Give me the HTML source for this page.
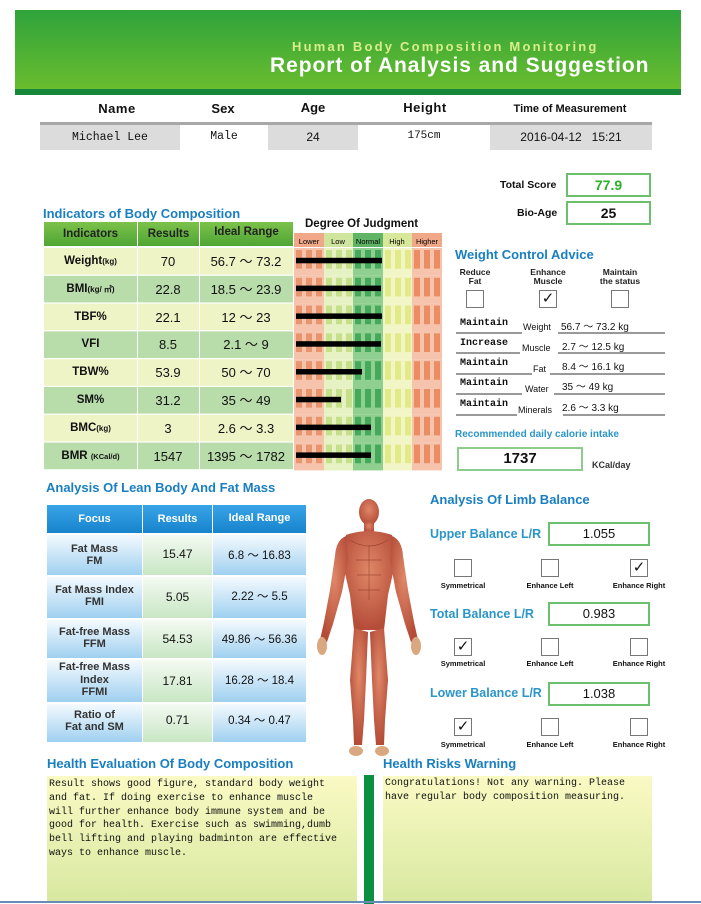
<!DOCTYPE html>
<html><head><meta charset="utf-8"><style>
*{margin:0;padding:0;box-sizing:border-box}
body{width:701px;height:904px;background:#fff;position:relative;overflow:hidden;font-family:"Liberation Sans",Arial,sans-serif;color:#111}
.a{position:absolute}
.t{color:#1a7fc0;font-weight:bold;font-size:13px}
.c{text-align:center}
.b{font-weight:bold}
.mono{font-family:"Liberation Mono",monospace}
.cb{position:absolute;width:18px;height:18px;border:1px solid #777;background:#fff;font-size:15px;line-height:16px;text-align:center}
.sl{position:absolute;font-size:7.5px;font-weight:bold;width:80px;text-align:center}
.box{position:absolute;border:2px solid #6cbf6c;background:#fff;text-align:center;font-size:14px}
.bt{position:absolute;color:#2a95c8;font-weight:bold;font-size:12.5px}
</style></head><body>
<div class="a" style="left:15px;top:10px;width:666px;height:80px;background:linear-gradient(#2fa33c,#6abd2e)"></div>
<div class="a" style="left:15px;top:89px;width:666px;height:6px;background:#17883a"></div>
<div class="a b" style="left:292px;top:39px;font-size:13px;letter-spacing:2.2px;color:#d9ee8a">Human Body Composition Monitoring</div>
<div class="a b" style="left:270px;top:54px;font-size:21px;letter-spacing:0.95px;color:#fff">Report of Analysis and Suggestion</div>
<div class="a b c" style="left:70px;top:101px;width:94px;font-size:13px;letter-spacing:.5px">Name</div>
<div class="a b c" style="left:200px;top:101px;width:46px;font-size:13px">Sex</div>
<div class="a b c" style="left:290px;top:100px;width:46px;font-size:13px">Age</div>
<div class="a b c" style="left:380px;top:100px;width:90px;font-size:13px;letter-spacing:.5px">Height</div>
<div class="a b c" style="left:495px;top:103px;width:150px;font-size:11px">Time of Measurement</div>
<div class="a" style="left:40px;top:122px;width:612px;height:28px;background:#dcdcdc;border-top:3px solid #a8a8a8"></div>
<div class="a" style="left:180px;top:125px;width:88px;height:25px;background:#fff"></div>
<div class="a" style="left:358px;top:125px;width:132px;height:25px;background:#fff"></div>
<div class="a mono c" style="left:40px;top:131px;width:140px;font-size:11.5px">Michael Lee</div>
<div class="a mono c" style="left:180px;top:130px;width:88px;font-size:11.5px">Male</div>
<div class="a c" style="left:268px;top:130px;width:90px;font-size:12px">24</div>
<div class="a mono c" style="left:358px;top:130px;width:132px;font-size:11px">175cm</div>
<div class="a c" style="left:490px;top:130px;width:162px;font-size:12px">2016-04-12&nbsp;&nbsp;&nbsp;15:21</div>
<div class="a b" style="left:500px;top:179px;font-size:10.5px">Total Score</div>
<div class="box b" style="left:566px;top:173px;width:85px;height:24px;color:#2bb02b;line-height:20px">77.9</div>
<div class="a b" style="left:517px;top:207px;font-size:10.5px">Bio-Age</div>
<div class="box b" style="left:566px;top:201px;width:85px;height:24px;line-height:20px">25</div>
<div class="a t" style="left:43px;top:206px">Indicators of Body Composition</div>
<svg class="a" style="left:0;top:0" width="701" height="904">
<defs>
<linearGradient id="gh" x1="0" y1="0" x2="0" y2="1"><stop offset="0" stop-color="#7cc24a"/><stop offset="1" stop-color="#4fa535"/></linearGradient>
<linearGradient id="bh" x1="0" y1="0" x2="0" y2="1"><stop offset="0" stop-color="#3aa4e8"/><stop offset="1" stop-color="#1683cc"/></linearGradient>
<linearGradient id="bc" x1="0" y1="0" x2="0" y2="1"><stop offset="0" stop-color="#f4fafe"/><stop offset="1" stop-color="#9fd0f0"/></linearGradient>
<linearGradient id="gc" x1="0" y1="0" x2="0" y2="1"><stop offset="0" stop-color="#f4faf2"/><stop offset="1" stop-color="#c8e6c4"/></linearGradient>
<linearGradient id="hy" x1="0" y1="0" x2="0" y2="1"><stop offset="0" stop-color="#fafac4"/><stop offset="1" stop-color="#d8e8a0"/></linearGradient>
<radialGradient id="sk" cx=".5" cy=".4" r=".6"><stop offset="0" stop-color="#e08868"/><stop offset="1" stop-color="#b44c38"/></radialGradient>
</defs>
<rect x="44" y="222" width="93" height="24" fill="url(#gh)"/><rect x="138" y="222" width="61" height="24" fill="url(#gh)"/><rect x="200" y="222" width="93" height="24" fill="url(#gh)"/>
<g id="rows"></g>
<rect x="294" y="233" width="30" height="14" fill="#f0a888"/><rect x="324" y="233" width="29" height="14" fill="#cfe49c"/><rect x="353" y="233" width="30" height="14" fill="#5fb565"/><rect x="383" y="233" width="29" height="14" fill="#d8e89a"/><rect x="412" y="233" width="30" height="14" fill="#f0a888"/>
<g font-size="7.5" font-family="Liberation Sans" text-anchor="middle"><text x="309" y="244">Lower</text><text x="338" y="244">Low</text><text x="368" y="244">Normal</text><text x="397" y="244">High</text><text x="427" y="244">Higher</text></g>
<rect x="47" y="505" width="95" height="28" fill="url(#bh)"/><rect x="143" y="505" width="69" height="28" fill="url(#bh)"/><rect x="213" y="505" width="93" height="28" fill="url(#bh)"/>
<g>
<rect x="47" y="535" width="95" height="40" fill="url(#bc)"/><rect x="143" y="535" width="69" height="40" fill="url(#gc)"/><rect x="213" y="535" width="93" height="40" fill="url(#bc)"/>
<rect x="47" y="577" width="95" height="41" fill="url(#bc)"/><rect x="143" y="577" width="69" height="41" fill="url(#gc)"/><rect x="213" y="577" width="93" height="41" fill="url(#bc)"/>
<rect x="47" y="620" width="95" height="38" fill="url(#bc)"/><rect x="143" y="620" width="69" height="38" fill="url(#gc)"/><rect x="213" y="620" width="93" height="38" fill="url(#bc)"/>
<rect x="47" y="660" width="95" height="42" fill="url(#bc)"/><rect x="143" y="660" width="69" height="42" fill="url(#gc)"/><rect x="213" y="660" width="93" height="42" fill="url(#bc)"/>
<rect x="47" y="704" width="95" height="38" fill="url(#bc)"/><rect x="143" y="704" width="69" height="38" fill="url(#gc)"/><rect x="213" y="704" width="93" height="38" fill="url(#bc)"/>
</g>
<g fill="url(#sk)">
<ellipse cx="369" cy="512" rx="10" ry="13"/>
<rect x="364" y="522" width="10" height="10"/>
<path d="M346 535 Q369 527 392 535 L396 560 L388 595 L384 630 L354 630 L350 595 L342 560 Z"/>
<path d="M346 536 Q336 540 335 556 L330 590 L324 622 L320 640 L327 642 L333 624 L342 592 L348 560 Z"/>
<path d="M392 536 Q402 540 403 556 L408 590 L414 622 L418 640 L411 642 L405 624 L396 592 L390 560 Z"/>
<path d="M354 628 L368 632 L366 680 L364 720 L362 745 L354 745 L353 720 L350 680 Z"/>
<path d="M384 628 L370 632 L372 680 L374 720 L376 745 L384 745 L385 720 L388 680 Z"/>
</g>
<g fill="#d9a880"><ellipse cx="322" cy="646" rx="5" ry="9"/><ellipse cx="416" cy="646" rx="5" ry="9"/><ellipse cx="356" cy="751" rx="7" ry="5"/><ellipse cx="382" cy="751" rx="7" ry="5"/></g>
<g stroke="#8e3424" stroke-width=".7" fill="none" opacity=".7"><path d="M369 545 V600 M356 560 H382 M357 575 H381 M358 590 H380 M350 540 Q369 552 388 540"/></g>
<rect x="47" y="776" width="310" height="126" fill="url(#hy)"/>
<rect x="383" y="776" width="269" height="126" fill="url(#hy)"/>
<rect x="364" y="775" width="10" height="129" fill="#0a9040"/>
<rect x="0" y="901" width="701" height="2" fill="#6a8ab8"/>
<g stroke="#333" stroke-width="1">
<line x1="456" y1="333" x2="522" y2="333"/><line x1="558" y1="333" x2="665" y2="333"/>
<line x1="456" y1="353" x2="520" y2="353"/><line x1="558" y1="353" x2="665" y2="353"/>
<line x1="456" y1="374" x2="532" y2="374"/><line x1="550" y1="374" x2="665" y2="374"/>
<line x1="456" y1="394" x2="522" y2="394"/><line x1="554" y1="394" x2="665" y2="394"/>
<line x1="456" y1="415" x2="517" y2="415"/><line x1="563" y1="415" x2="665" y2="415"/>
</g>
</svg>
<script>
(function(){
var ns="http://www.w3.org/2000/svg",g=document.getElementById("rows");
function r(x,y,w,h,f){var e=document.createElementNS(ns,"rect");e.setAttribute("x",x);e.setAttribute("y",y);e.setAttribute("width",w);e.setAttribute("height",h);e.setAttribute("fill",f);g.appendChild(e);}
var ends=[382,381,382,381,362,341,371,371];
var segs=[[294,"#f6c4ac","#ea946e"],[324,"#e6f2c4","#c6df8a"],[353,"#8fcf8f","#46a85a"],[383,"#f2f6c6","#e2ea88"],[412,"#f6c4ac","#ec8c62"]];
for(var i=0;i<8;i++){
 var y=248+i*27.8,h=26.6;
 r(44,y,93,h,i%2?"#b9dcab":"#eef4c6");r(138,y,61,h,i%2?"#b9dcab":"#eef4c6");r(200,y,93,h,i%2?"#b9dcab":"#eef4c6");
 for(var s=0;s<5;s++){var x=segs[s][0];r(x,y,30,27.8,segs[s][1]);
  for(var k=0;k<3;k++)r(x+2+k*10,y+2,6,h-8,segs[s][2]);}
 r(296,y+h/2-3.5,ends[i]-296,5.5,"#000");
}
})();
</script>
<div class="a b c" style="left:44px;top:228px;width:93px;font-size:11.5px;color:#222">Indicators</div>
<div class="a b c" style="left:138px;top:228px;width:61px;font-size:11.5px;color:#222">Results</div>
<div class="a b c" style="left:200px;top:226px;width:93px;font-size:11.5px;color:#222">Ideal Range</div>
<div class="a b" style="left:305px;top:218px;font-size:11.5px">Degree Of Judgment</div>
<div class="a" style="left:44px;top:248px;width:249px;font-size:13px;line-height:27.8px">
<div style="display:flex"><div class="b c" style="width:93px;font-size:11.5px">Weight<span style="font-size:8px">(kg)</span></div><div class="c" style="width:62px">70</div><div class="c" style="width:94px">56.7 ～ 73.2</div></div>
<div style="display:flex"><div class="b c" style="width:93px;font-size:11.5px">BMI<span style="font-size:8px">(kg/ ㎡)</span></div><div class="c" style="width:62px">22.8</div><div class="c" style="width:94px">18.5 ～ 23.9</div></div>
<div style="display:flex"><div class="b c" style="width:93px;font-size:11.5px">TBF%</div><div class="c" style="width:62px">22.1</div><div class="c" style="width:94px">12 ～ 23</div></div>
<div style="display:flex"><div class="b c" style="width:93px;font-size:11.5px">VFI</div><div class="c" style="width:62px">8.5</div><div class="c" style="width:94px">2.1 ～ 9</div></div>
<div style="display:flex"><div class="b c" style="width:93px;font-size:11.5px">TBW%</div><div class="c" style="width:62px">53.9</div><div class="c" style="width:94px">50 ～ 70</div></div>
<div style="display:flex"><div class="b c" style="width:93px;font-size:11.5px">SM%</div><div class="c" style="width:62px">31.2</div><div class="c" style="width:94px">35 ～ 49</div></div>
<div style="display:flex"><div class="b c" style="width:93px;font-size:11.5px">BMC<span style="font-size:8px">(kg)</span></div><div class="c" style="width:62px">3</div><div class="c" style="width:94px">2.6 ～ 3.3</div></div>
<div style="display:flex"><div class="b c" style="width:93px;font-size:11.5px">BMR <span style="font-size:7.5px">(KCal/d)</span></div><div class="c" style="width:62px">1547</div><div class="c" style="width:94px">1395 ～ 1782</div></div>
</div>
<div class="a t" style="left:455px;top:247px">Weight Control Advice</div>
<div class="a b c" style="left:445px;top:268px;width:60px;font-size:8.5px;line-height:9px;color:#222">Reduce<br>Fat</div>
<div class="a b c" style="left:518px;top:268px;width:60px;font-size:8.5px;line-height:9px;color:#222">Enhance<br>Muscle</div>
<div class="a b c" style="left:590px;top:268px;width:60px;font-size:8.5px;line-height:9px;color:#222">Maintain<br>the status</div>
<div class="cb" style="left:466px;top:290px"></div>
<div class="cb" style="left:539px;top:290px">✓</div>
<div class="cb" style="left:611px;top:290px"></div>
<div class="a mono b" style="left:460px;top:318px;font-size:10px">Maintain</div><div class="a" style="left:523px;top:322px;font-size:9px">Weight</div><div class="a" style="left:561px;top:318px;font-size:10px">56.7 ～ 73.2 kg</div>
<div class="a mono b" style="left:460px;top:338px;font-size:10px">Increase</div><div class="a" style="left:522px;top:343px;font-size:9px">Muscle</div><div class="a" style="left:562px;top:338px;font-size:10px">2.7 ～ 12.5 kg</div>
<div class="a mono b" style="left:460px;top:358px;font-size:10px">Maintain</div><div class="a" style="left:533px;top:364px;font-size:9px">Fat</div><div class="a" style="left:562px;top:358px;font-size:10px">8.4 ～ 16.1 kg</div>
<div class="a mono b" style="left:460px;top:378px;font-size:10px">Maintain</div><div class="a" style="left:525px;top:384px;font-size:9px">Water</div><div class="a" style="left:562px;top:378px;font-size:10px">35 ～ 49 kg</div>
<div class="a mono b" style="left:460px;top:399px;font-size:10px">Maintain</div><div class="a" style="left:518px;top:405px;font-size:9px">Minerals</div><div class="a" style="left:562px;top:399px;font-size:10px">2.6 ～ 3.3 kg</div>
<div class="a b" style="left:455px;top:429px;font-size:10px;color:#2a95c8">Recommended daily calorie intake</div>
<div class="box b" style="left:457px;top:447px;width:126px;height:24px;font-size:15px;line-height:20px;border-color:#8ccc8c">1737</div>
<div class="a b" style="left:592px;top:460px;font-size:9px;color:#333">KCal/day</div>
<div class="a t" style="left:46px;top:480px">Analysis Of Lean Body And Fat Mass</div>
<div class="a b c" style="left:47px;top:513px;width:95px;font-size:11px;color:#fff">Focus</div>
<div class="a b c" style="left:143px;top:513px;width:69px;font-size:11px;color:#fff">Results</div>
<div class="a b c" style="left:213px;top:512px;width:93px;font-size:11px;color:#fff">Ideal Range</div>
<div class="a b c" style="left:47px;top:543px;width:95px;font-size:11px;line-height:12px;color:#333">Fat Mass<br>FM</div>
<div class="a b c" style="left:47px;top:584px;width:95px;font-size:11px;line-height:12px;color:#333">Fat Mass Index<br>FMI</div>
<div class="a b c" style="left:47px;top:626px;width:95px;font-size:11px;line-height:12px;color:#333">Fat-free Mass<br>FFM</div>
<div class="a b c" style="left:47px;top:661px;width:95px;font-size:11px;line-height:12.5px;color:#333">Fat-free Mass<br>Index<br>FFMI</div>
<div class="a b c" style="left:47px;top:709px;width:95px;font-size:11px;line-height:12px;color:#333">Ratio of<br>Fat and SM</div>
<div class="a c" style="left:143px;top:547px;width:69px;font-size:12px">15.47</div>
<div class="a c" style="left:143px;top:590px;width:69px;font-size:12px">5.05</div>
<div class="a c" style="left:143px;top:632px;width:69px;font-size:12px">54.53</div>
<div class="a c" style="left:143px;top:674px;width:69px;font-size:12px">17.81</div>
<div class="a c" style="left:143px;top:713px;width:69px;font-size:12px">0.71</div>
<div class="a c" style="left:213px;top:547px;width:93px;font-size:11.5px">6.8 ～ 16.83</div>
<div class="a c" style="left:213px;top:588px;width:93px;font-size:11.5px">2.22 ～ 5.5</div>
<div class="a c" style="left:213px;top:631px;width:93px;font-size:11.5px">49.86 ～ 56.36</div>
<div class="a c" style="left:213px;top:672px;width:93px;font-size:11.5px">16.28 ～ 18.4</div>
<div class="a c" style="left:213px;top:712px;width:93px;font-size:11.5px">0.34 ～ 0.47</div>
<div class="a t" style="left:430px;top:492px">Analysis Of Limb Balance</div>
<div class="bt" style="left:430px;top:527px">Upper Balance L/R</div>
<div class="box" style="left:548px;top:522px;width:102px;height:24px;line-height:20px;font-size:13px">1.055</div>
<div class="cb" style="left:454px;top:559px"></div><div class="cb" style="left:541px;top:559px"></div><div class="cb" style="left:630px;top:559px">✓</div>
<div class="sl" style="left:423px;top:581px">Symmetrical</div><div class="sl" style="left:510px;top:581px">Enhance Left</div><div class="sl" style="left:599px;top:581px">Enhance Right</div>
<div class="bt" style="left:430px;top:607px">Total Balance L/R</div>
<div class="box" style="left:548px;top:602px;width:102px;height:24px;line-height:20px;font-size:13px">0.983</div>
<div class="cb" style="left:454px;top:638px">✓</div><div class="cb" style="left:541px;top:638px"></div><div class="cb" style="left:630px;top:638px"></div>
<div class="sl" style="left:423px;top:659px">Symmetrical</div><div class="sl" style="left:510px;top:659px">Enhance Left</div><div class="sl" style="left:599px;top:659px">Enhance Right</div>
<div class="bt" style="left:430px;top:686px">Lower Balance L/R</div>
<div class="box" style="left:548px;top:682px;width:102px;height:24px;line-height:20px;font-size:13px">1.038</div>
<div class="cb" style="left:454px;top:718px">✓</div><div class="cb" style="left:541px;top:718px"></div><div class="cb" style="left:630px;top:718px"></div>
<div class="sl" style="left:423px;top:740px">Symmetrical</div><div class="sl" style="left:510px;top:740px">Enhance Left</div><div class="sl" style="left:599px;top:740px">Enhance Right</div>
<div class="a t" style="left:47px;top:756px">Health Evaluation Of Body Composition</div>
<div class="a t" style="left:383px;top:756px">Health Risks Warning</div>
<div class="a mono" style="left:49px;top:778px;width:292px;font-size:10px;line-height:13.8px">Result shows good figure, standard body weight and fat. If doing exercise to enhance muscle will further enhance body immune system and be good for health. Exercise such as swimming,dumb bell lifting and playing badminton are effective ways to enhance muscle.</div>
<div class="a mono" style="left:385px;top:777px;width:250px;font-size:10px;line-height:14px">Congratulations! Not any warning. Please have regular body composition measuring.</div>
</body></html>
